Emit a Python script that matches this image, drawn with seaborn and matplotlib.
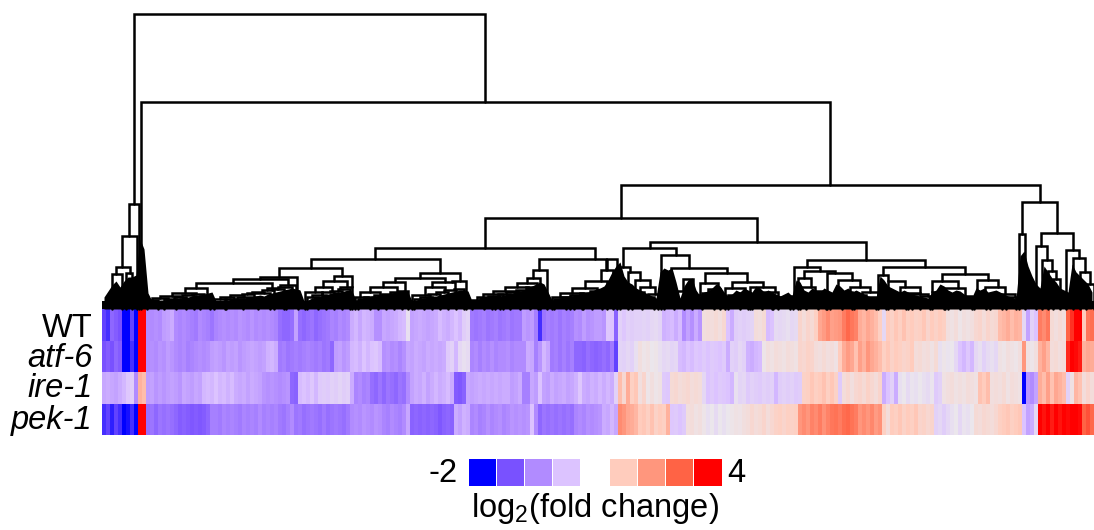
import numpy as np
import pandas as pd
import matplotlib
matplotlib.use("Agg")
import matplotlib.pyplot as plt
from matplotlib.colors import LinearSegmentedColormap
from matplotlib.transforms import Affine2D
import seaborn as sns

strains = ["WT", "atf-6", "ire-1", "pek-1"]

# log2 fold change, one value per block of 4 genes along the tree
wt = [
    -1.6, -1.7, -1.3, -1.4, -1.5, -2, -2, -1.6, -2, 4, 4,
    -1.0, -1.0, -0.95, -1.0, -0.85, -0.8, -0.7, -1.0, -1.05, -1.0,
    -1.05, -1.1, -1.15, -1.0, -1.05, -1.1, -1.2, -1.05, -1.0, -0.95,
    -1.0, -0.95, -1.0, -0.9, -0.95, -1.0, -0.9, -1.0, -0.95, -1.0,
    -0.95, -1.0, -1.05, -1.25, -1.3, -1.3, -1.25, -0.8, -1.25, -1.3,
    -1.25, -1.2, -1.3, -1.25, -1.2, -1.15, -1.05, -1.1, -1.0, -1.05,
    -1.0, -0.7, -0.6, -0.75, -0.6, -0.65,
    -0.7, -0.95, -0.95, -0.75, -0.8, -0.75, -0.7, -0.6, -0.55, -0.1,
    -0.8, -0.75, -0.7, -0.75, -0.8, -0.75, -0.7, -0.55, -0.65, -0.7,
    -0.6, -0.5, -0.6, -0.35, -0.25, -1.15, -1.2, -1.15, -1.1, -1.2,
    -1.15, -1.1, -1.2, -1.15, -1.1, -1.2, -1.15, -1.15, -0.85, -0.9,
    -0.85, -1.1, -1.7, -1.2, -1.1, -1.15, -1.1, -1.2, -1.1, -1.15,
    -1.1, -0.95, -1.0, -0.85, -0.95, -0.9, -0.85, -0.85, -0.9, -0.45,
    -0.5, -1.35, -0.3, -0.45, -0.3, -0.35, -0.3, -0.3, -0.25, -0.3,
    -0.2, -0.15, -0.25, -0.65, -0.6, -0.55, -0.7, -0.55, -1.0, -0.8,
    -0.95, -0.7, -0.9, 0.3, 0.4, 0.35, 0.5, 0.3, 0.6, -0.5,
    -0.7, -0.35, -0.3, -0.35, -0.3, -0.25, 0.4, 0.3, 0.5, -0.55,
    -0.5, -0.15, -0.2, -0.15, -0.1, -0.2, -0.15, 0.7, 0.4, 0.7,
    0.5, 0.9, 1.7, 1.9, 2.2, 1.8, 1.9, 2.0, 2.5, 2.9,
    2.6, 2.4, 1.6, 1.4, 1.7, 1.5, 1.3, 0.9, -0.2, 1.0,
    0.8, 1.1, 0.9, 1.2, 0.9, 1.0, 0.8, 0.9, 1.1, 0.7,
    1.0, 0.8, 1.0, 0.9, 0.3, 0.2, 0.4, 0.1, 0.3, 0.2,
    0.3, 0.6, 0.7, 0.4, 0.7, 0.5, 0.6, 1.3, 1.4, 1.6,
    1.3, 1.5, 1.4, -0.2, -0.8, -0.3, -0.5, 2.5, 2.2, 2.6,
    0.5, 0.3, 0.5, 0.3, 3, 3.5, 4, 4, 1, 2.6,
    2.8,
]
atf6 = [
    -1.5, -1.4, -1.5, -1.3, -1.4, -2, -2, -1.7, -2, 4, 4,
    -1.0, -0.95, -1.0, -0.9, -0.95, -0.85, -0.9, -1.0, -1.05, -1.0,
    -1.1, -1.05, -1.0, -0.95, -1.0, -0.95, -0.85, -0.8, -0.85, -0.9,
    -0.8, -0.85, -0.8, -0.9, -0.85, -0.8, -0.75, -0.8, -0.85, -0.8,
    -0.65, -0.6, -0.7, -1.15, -1.1, -1.2, -1.15, -1.1, -1.15, -1.1,
    -1.05, -1.1, -1.15, -1.1, -1.2, -1.15, -1.3, -0.85, -0.8, -0.9,
    -0.85, -0.6, -0.55, -0.65, -0.5, -0.6,
    -0.5, -0.45, -0.55, -0.95, -0.9, -1.0, -0.95, -1.05, -0.95, -0.75,
    -0.8, -0.7, -0.75, -0.8, -0.7, -0.75, -0.7, -0.75, -0.7, -0.4,
    -0.3, -0.6, -0.2, -0.1, -0.15, -1.05, -1.0, -1.1, -1.0, -1.05,
    -0.95, -1.05, -1.0, -1.0, -0.95, -1.05, -1.0, -1.0, -1.0, -0.7,
    -0.75, -1.1, -0.9, -0.6, -0.75, -1.15, -1.1, -1.2, -1.1, -1.2,
    -1.1, -1.3, -1.3, -1.35, -1.25, -1.3, -1.35, -1.3, -1.25, -1.3,
    -1.15, -1.6, -0.25, -0.3, -0.2, -0.3, -0.1, 0.3, 0.1, 0.2,
    0, 0.1, -0.1, -0.2, -0.15, -0.25, -0.2, -0.55, -0.6, -0.5,
    -0.55, -0.45, -0.5, -0.4, -0.5, -0.4, -0.45, -0.5, -0.4, -0.7,
    -0.3, -0.35, -0.2, -0.3, -0.65, -0.7, -0.6, -0.55, 0.1, 0.3,
    0.2, 0.4, 0.3, 0.2, 0.4, 0.3, 0.2, 0.7, 0.6, 0.8,
    0.7, 0.4, 0.3, 0.5, 0.3, 0.4, 0.2, 1.0, 1.6, 1.9,
    1.7, 1.2, 1.8, 1.5, 2, 1.7, 1.5, 1.3, 0.9, 1.1,
    0.8, 1.0, 0.9, 0.7, 0.8, 1.0, 0.4, 0.5, 0.3, 0.4,
    0.2, 0.5, -0.1, 0.1, -0.05, 0, -0.2, -0.5, -0.6, -0.45,
    -0.6, -0.2, -0.1, -0.3, -0.15, -0.1, -0.2, 0.2, 0.1, 0.3,
    0.2, 0.1, 0.3, 2, 0.2, 0.1, 0.3, 1.5, 1.8, 1.4,
    0.4, 0.5, 0.3, 0.4, 3.6, 4, 3.9, 3.7, 1.5, 1.7,
    1.6,
]
ire1 = [
    -0.75, -0.7, -0.75, -0.8, -0.7, -0.6, -0.45, -0.35, -1.0, 1.5, 1.3,
    -0.85, -0.8, -0.9, -0.85, -0.9, -0.85, -0.8, -0.85, -0.9, -0.75,
    -0.8, -0.85, -0.75, -0.8, -0.6, -0.55, -0.6, -0.5, -0.6, -0.55,
    -0.65, -0.55, -0.7, -0.75, -0.7, -0.8, -0.7, -0.75, -0.8, -0.9,
    -0.95, -0.9, -0.95, -1.0, -0.95, -0.9, -1.3, -1.35, -0.55, -0.5,
    -0.55, -0.45, -0.6, -0.4, -0.35, -0.4, -0.3, -0.35, -0.25, -0.35,
    -0.3, -0.7, -1.05, -1.0, -1.1, -1.05,
    -1.25, -1.3, -1.2, -1.3, -1.2, -1.25, -1.3, -1.2, -1.25, -1.0,
    -0.8, -0.7, -0.75, -0.65, -0.8, -0.7, -0.6, -0.7, -0.65, -0.55,
    -0.7, -1.4, -1.45, -1.35, -0.75, -0.8, -0.75, -0.7, -0.75, -0.7,
    -0.75, -0.7, -0.75, -0.7, -0.7, -0.85, -0.8, -0.7, -1.1, -1.1,
    -0.75, -0.85, -0.5, -0.8, -0.85, -0.7, -0.8, -0.75, -0.7, -0.8,
    -0.75, -0.65, -0.45, -0.7, -0.75, -0.65, -0.7, -0.6, -0.7, -0.6,
    -0.7, -0.3, 1.3, 0.6, 1.6, 0.9, 1.1, 0.3, 0.7, 0.1,
    0.3, 0.1, 0.2, -0.4, -0.45, 0.5, 0.6, 0.4, 0.5, 0.6,
    0.4, 0.5, 0.4, -0.2, -0.5, -0.4, -0.5, -0.4, -0.45, -0.5,
    -0.6, -0.1, -0.25, -0.2, -0.4, -0.3, -0.35, -0.4, -0.3, -0.35,
    -0.3, -0.6, -0.35, -0.3, -0.35, -0.3, -0.4, -0.35, 0.8, 0.9,
    1.1, 0.9, 1.0, 1.2, 0.9, 1.1, 0.8, -0.4, 0.4, 0.6,
    0.3, 0.6, 0.7, 0.5, 0.8, 0.6, 0.4, 0.7, -0.7, -0.5,
    -0.3, -0.7, -0.1, 0, -0.15, -0.05, -0.1, 0, -0.1, -0.15,
    -0.05, -0.4, -0.3, 0.2, 0.3, 0.4, 0.2, 0.3, 0.2, 0.4,
    0.3, 0.2, 1.2, 1.0, 1.3, 0.3, 0.4, 0.3, 0.5, 0.2,
    0.4, 0.3, 0.2, -2, -0.9, -1.0, -0.8, 1.6, 1.3, 1.8,
    1.2, 1.7, 1.5, 1.3, -0.3, 0.2, 1.4, 1.2, 0.4, 0.7,
    0.4,
]
pek1 = [
    -1.7, -1.6, -1.8, -1.6, -1.7, -2, -1.9, -1.7, -2, 4, 4,
    -1.25, -1.2, -1.3, -1.2, -1.25, -1.2, -1.25, -1.3, -1.4, -1.35,
    -1.4, -1.45, -1.4, -1.45, -1.4, -1.3, -1.1, -1.1, -1.15, -1.05,
    -1.1, -1.05, -1.1, -1.15, -1.05, -1.1, -1.05, -1.1, -1.0, -1.1,
    -1.05, -1.1, -1.05, -1.15, -1.2, -1.1, -1.0, -1.2, -1.15, -1.25,
    -1.2, -1.15, -1.2, -1.25, -1.15, -1.25, -1.2, -1.15, -1.2, -1.25,
    -1.15, -1.0, -0.95, -1.0, -0.9, -0.95,
    -1.0, -0.9, -0.95, -1.05, -1.1, -1.0, -1.05, -1.1, -1.0, -0.75,
    -1.35, -1.3, -1.35, -1.3, -1.35, -1.3, -1.35, -1.45, -1.35, -1.3,
    -1.35, -0.7, -0.8, -0.65, -0.7, -1.05, -1.0, -1.1, -1.05, -0.95,
    -1.05, -1.0, -0.95, -1.05, -1.0, -0.9, -0.95, -0.9, -0.95, -0.9,
    -0.5, -1.0, -1.3, -1.2, -1.25, -1.2, -1.25, -1.2, -1.25, -1.2,
    -1.25, -1.05, -1.0, -1.05, -0.95, -1.0, -0.95, -0.9, -0.7, -0.75,
    -0.6, -0.75, 2.2, 2.0, 1.7, 1.6, 1.4, 1.0, 1.1, 0.9,
    1.2, 0.8, 1.0, 0.9, 1.5, -0.45, -0.4, -0.5, -0.4, 0.3,
    0.4, 0.2, 0.3, 0.1, -0.1, 0, -0.15, 0, -0.1, 0,
    0.1, 0.2, 0.15, 0.3, 0.4, 0.6, 0.4, 0.5, 0.7, 0.4,
    0.6, 0.8, 0.9, 0.7, 0.9, 0.8, 0.9, 2.0, 2.2, 2.0,
    2.4, 2.2, 2.5, 2.1, 2.4, 2.6, 2.7, 2.5, 2.8, 2.9,
    2.7, 2.5, 2.0, 2.2, 2.0, 2.3, 1.9, 2.1, 0.9, 0.4,
    1.0, 0.9, 1.1, 0.8, 1.0, 0.9, 1.1, 0.7, 0.8, 0.6,
    0.7, -0.3, -0.2, -0.35, -0.2, -0.1, 0, -0.2, -0.05, -0.1,
    0, 0.5, 0.4, 0.6, 0.5, 0.4, 0.6, 0.9, 1.0, 1.1,
    0.9, 1.0, 1.1, -0.5, -0.8, -0.7, -0.2, 4, 3.8, 4,
    3.7, 4, 3.8, 4, 3.9, 4, 4, 3.9, 3, 3.2,
    2.9,
]

# dense bottom of the tree: height of the solid part over each block of genes
canopy = [
    12, 18, 24, 28, 22, 28, 32, 32, 34, 70, 60,
    16, 8, 8, 9, 9, 10, 10, 11, 11, 12, 12, 13, 14, 14, 15, 16, 17,
    8, 8, 9, 9, 10, 10, 11, 11, 12, 12, 13, 14, 13, 15, 16, 17, 18, 19, 20, 21, 20, 19,
    8, 9, 11, 12, 13, 14, 15, 16, 17, 17, 18, 19, 18,
    9, 10, 11, 12, 13, 13, 14, 14, 15, 16, 17, 18, 19, 17,
    8, 9, 10, 11, 12, 13, 13, 14, 15, 16, 17, 18, 19, 19, 18,
    8, 9, 10, 11, 12, 12, 13, 13, 14, 15, 16, 17, 18, 19, 21, 23, 25, 27, 25, 17,
    9, 10, 11, 11, 12, 13, 14, 15, 16, 17, 18, 20, 21, 23, 29, 37,
    43, 47, 33, 27, 25, 21, 19, 17, 15, 13, 11,
    37, 41, 39, 41, 27,
    11, 23, 29, 31, 19,
    13, 17, 18, 21, 25, 23, 17,
    13, 15, 19, 17, 21, 19, 17, 23, 21, 17, 19, 17, 15, 13, 15, 17, 13,
    29, 27, 19, 17, 21, 19, 17, 21, 19, 17, 25, 23, 19, 21, 17, 19, 17, 15, 13, 12, 11,
    33, 29, 23, 21, 19, 17, 19, 17, 15, 14, 13, 12, 11,
    17, 19, 25, 23, 19, 17, 19, 18, 15, 13, 12,
    21, 19, 21, 17, 18, 19, 17, 15, 13, 12, 10,
    53, 58, 43, 33, 25, 21, 43, 37, 31, 27, 21, 19, 17, 45, 37, 33, 29, 25, 17,
]

# merges of the tree: gene rank of both branches and merge height
merge_left = [
    32, 39, 519, 383, 273, 209, 177, 158, 131, 94, 83, 70, 58, 165, 145, 135, 123,
    178, 184, 232, 221, 213, 203, 238, 318, 293, 281, 268, 258, 253, 330, 323, 310,
    350, 437, 431, 425, 415, 403, 391, 381, 375, 499, 483, 470, 458, 450, 505, 548,
    521, 518, 526, 533, 538, 546, 559, 569, 581, 603, 598, 630, 623, 648, 656, 671,
    705, 692, 702, 696, 725, 736, 748, 760, 698, 714, 781, 776, 786, 798, 810, 840,
    830, 843, 875, 883, 898, 920, 917, 939, 934, 940, 946, 951, 964, 971, 978, 984,
    27, 20, 14, 10, 24,
    45, 50, 62, 72, 80, 90, 98, 112, 118, 128, 140, 150, 160, 170, 176,
    205, 210, 220, 228, 236, 256, 262, 272, 280, 288, 296,
    312, 318, 326, 334, 342, 352, 370, 378, 386, 396, 404, 414, 424,
    452, 460, 468, 478, 488, 540, 530, 562, 572, 590, 600, 606,
    626, 634, 650, 660, 676, 684, 704, 712, 728, 738, 752, 764, 776,
    792, 806, 818, 830, 846, 858, 872, 888, 904,
]
merge_right = [
    383, 728, 938, 655, 493, 338, 240, 195, 186, 170, 105, 94, 78, 175, 168, 156, 141,
    194, 196, 250, 245, 230, 220, 250, 358, 343, 303, 295, 278, 266, 353, 343, 328,
    364, 504, 445, 438, 435, 426, 416, 401, 393, 511, 505, 495, 481, 468, 515, 764,
    574, 528, 538, 548, 553, 556, 587, 625, 591, 645, 616, 661, 643, 673, 676, 691,
    823, 718, 733, 709, 750, 758, 768, 776, 713, 723, 863, 786, 803, 818, 826, 886,
    856, 863, 896, 903, 913, 955, 923, 971, 945, 950, 954, 958, 977, 983, 988, 992,
    37, 35, 28, 20, 30,
    56, 66, 74, 84, 92, 102, 108, 124, 132, 142, 152, 162, 172, 182, 190,
    216, 224, 232, 240, 248, 268, 276, 284, 292, 300, 306,
    322, 330, 338, 346, 354, 362, 382, 390, 398, 408, 418, 428, 436,
    464, 472, 480, 490, 500, 552, 542, 572, 582, 600, 612, 618,
    638, 646, 662, 670, 688, 696, 716, 724, 740, 750, 764, 774, 784,
    804, 818, 828, 842, 858, 870, 884, 900, 914,
]
merge_height = [
    295, 207, 124, 91, 61, 50, 41, 32, 30, 26, 21, 16, 13, 21, 16, 12, 10,
    24, 18, 33, 28, 22, 17, 22, 36, 31, 27, 22, 17, 12, 27, 22, 14,
    28, 50, 39, 31, 26, 22, 18, 15, 12, 39, 28, 21, 16, 12, 50, 67,
    61, 42, 37, 29, 22, 15, 54, 41, 30, 36, 26, 27, 21, 22, 17, 12,
    49, 42, 38, 31, 36, 29, 22, 17, 22, 18, 42, 34, 28, 22, 15, 35,
    28, 21, 29, 22, 15, 107, 75, 76, 63, 49, 38, 30, 59, 51, 37, 25,
    105, 73, 42, 35, 36,
    9, 11, 10, 12, 14, 15, 13, 10, 12, 14, 15, 17, 19, 20, 22,
    12, 14, 17, 18, 20, 10, 12, 14, 15, 17, 18,
    10, 12, 15, 17, 19, 20, 9, 11, 13, 15, 17, 19, 22,
    10, 12, 14, 16, 18, 12, 17, 14, 18, 14, 16, 20,
    14, 16, 14, 12, 11, 13, 14, 16, 15, 17, 14, 12, 10,
    14, 16, 13, 17, 15, 13, 12, 14, 12,
]

legend_values = [-2, -1.5, -1, -0.5, 0, 1, 2, 3, 4]
legend_colors = ["#0000ff", "#7a52ff", "#b28cff", "#dcc3ff", "#ebe6ec",
                 "#ffcdbe", "#ff967d", "#ff6446", "#ff0000"]


def leg_base(x, height):
    # a branch stops at the highest merge below it, else at the leaves
    below = [h for l, r, h in zip(merge_left, merge_right, merge_height)
             if h < height and l <= x <= r]
    return max(below) if below else 0


sns.set_style("white")
plt.rcParams["font.family"] = ["Liberation Sans", "DejaVu Sans"]
plt.rcParams["mathtext.default"] = "regular"
plt.rcParams["text.color"] = "black"
plt.rcParams["ytick.color"] = "black"

W, H = 1094, 530
fig = plt.figure(figsize=(W / 100, H / 100), dpi=100)

stops = [(v + 2) / 6 for v in legend_values]
cmap = LinearSegmentedColormap.from_list("fold", list(zip(stops, legend_colors)))

# heatmap
ax_heat = fig.add_axes([102 / W, (H - 435) / H, 992 / W, 126 / H])
data = pd.DataFrame([wt, atf6, ire1, pek1], index=strains)
sns.heatmap(data, ax=ax_heat, cmap=cmap, vmin=-2, vmax=4, cbar=False,
            xticklabels=False, yticklabels=True)
ax_heat.tick_params(axis="y", length=0, pad=7, labelsize=23.5, labelrotation=0)
for lab, shift in zip(ax_heat.get_yticklabels(), [4, 2, 1, 1]):
    lab.set_transform(lab.get_transform() + Affine2D().translate(0, -shift))
    if lab.get_text() != "WT":
        lab.set_fontstyle("italic")

# dendrogram
ax_tree = fig.add_axes([102 / W, (H - 309) / H, 992 / W, 295 / H])
ranks = (np.arange(len(canopy)) + 0.5) * 4
ax_tree.fill_between(ranks, canopy, color="black", lw=0)
ax_tree.fill_between([0, 992], [8, 8], color="black", lw=0)
for l, r, h in zip(merge_left, merge_right, merge_height):
    ax_tree.plot([l, l, r, r], [leg_base(l, h), h, h, leg_base(r, h)],
                 color="black", lw=1.8, solid_joinstyle="miter", clip_on=False)
ax_tree.set_xlim(0, 992)
ax_tree.set_ylim(0, 295)
ax_tree.axis("off")

# colour key
ax_key = fig.add_axes([467.5 / W, (H - 486) / H, 254 / W, 28.5 / H])
key = pd.DataFrame([legend_values])
sns.heatmap(key, ax=ax_key, cmap=cmap, vmin=-2, vmax=4, cbar=False,
            mask=key == 0, linewidths=0.5, linecolor="white",
            xticklabels=False, yticklabels=False)
fig.text(458 / W, (H - 473) / H, "-2", fontsize=23.5, ha="right", va="center")
fig.text(727 / W, (H - 473) / H, "4", fontsize=23.5, ha="left", va="center")
fig.text(595 / W, (H - 509) / H, "log$_2$(fold change)", fontsize=23.5,
         ha="center", va="center")

fig.savefig("out.png", dpi=100)
